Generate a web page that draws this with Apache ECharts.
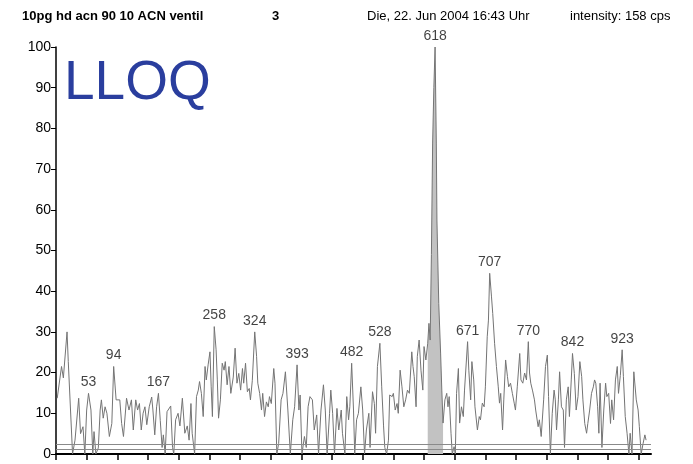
<!DOCTYPE html>
<html>
<head>
<meta charset="utf-8">
<script src="https://cdn.jsdelivr.net/npm/echarts@6/dist/echarts.min.js"></script>
<style>
  html, body { margin: 0; padding: 0; background: #fff; }
  #chart { width: 693px; height: 464px; }
</style>
</head>
<body>
<div id="chart"></div>
<script>
// Spectrum trace: m/z positions and relative intensity (%)
const mz = [
  2, 9, 12, 18, 20, 27, 31, 37, 40, 44, 47, 50, 53, 57, 60, 62, 65, 69, 72, 74, 77, 80, 83, 87, 91, 94, 98,
  101, 104, 107, 110, 115, 119, 123, 126, 130, 133, 136, 139, 142, 145, 148, 152, 156, 158, 161, 164, 167,
  170, 173, 175, 178, 181, 184, 187, 190, 192,
  195, 199, 202, 206, 210, 214, 217, 220, 222, 226, 229, 232, 234, 237, 240, 243, 245, 248, 251, 253, 255,
  258, 261, 263, 265, 268, 271, 274, 276, 279, 282, 285, 289, 292, 295, 298, 301, 304, 306, 309, 312, 315,
  317, 320, 324, 327, 329, 332, 335, 337, 340, 343, 346, 348, 351, 355, 357, 360, 363, 367, 370, 374, 378,
  382, 386, 389,
  393, 396, 398, 401, 405, 408, 411, 414, 418, 421, 425, 428, 432, 436, 439, 442, 446, 448, 451, 454, 458,
  461, 465, 467, 471, 474, 477, 479, 482, 485, 487, 490, 493, 497, 500, 503, 506, 510, 512, 516, 519, 521,
  524, 528, 531, 534, 536, 539, 542, 544, 548, 550, 553, 556, 558, 561, 564, 567, 570, 573, 576, 580, 582,
  584, 587, 589, 592, 595, 598, 600, 603, 606, 608, 610, 612, 614, 616, 618, 620, 621, 624, 627, 629, 631,
  634, 637, 639, 641, 644, 646, 649, 651, 653, 656, 658, 661, 664, 666, 671, 673, 676, 678, 681, 683, 687,
  690, 692, 695, 698, 700, 703, 705, 707, 710, 712, 715, 718, 721, 723, 725, 728, 730, 733, 736, 738, 741,
  744, 747, 749, 752, 756, 758, 761, 764, 767, 770, 772, 774, 777, 780, 782, 786, 788, 791, 795, 798, 801,
  803, 806, 809, 812, 814, 816, 819, 821, 824, 827, 829, 832, 835, 837, 840, 842, 845, 848, 851, 854, 857,
  859, 862, 865, 867, 870, 873, 876, 878, 880, 883, 885, 887, 890, 893, 896, 898, 901, 904, 906, 909, 912,
  915, 917, 920, 923, 925, 928, 931, 934, 936, 939, 942, 946, 949, 951, 954, 957, 960, 962
];
const intensity = [
  13.7, 21.5, 18.7, 30, 22.7, 0, 3.4, 13.7, 5, 6.7, 0, 10.8, 14.9, 10.8, 0, 5.5, 0, 1.5, 10.8, 13.3, 8.8, 11.6, 10, 4.3, 7.5, 21.5, 13.3,
  13.7, 13.3, 7.5, 4.3, 13.7, 10.8, 13.3, 5.9, 13.3, 10.8, 12.4, 5.9, 10, 11.6, 7.2, 11.6, 14, 10.8, 4.7, 11.6, 14.9,
  8.2, 1.6, 4.7, 0, 10.4, 10, 11.8, 1.6, 0,
  8.4, 10, 6.9, 13.7, 5.1, 6.9, 3.4, 12.4, 5.1, 0, 14.1, 15.7, 17.8, 14.9, 9.2, 21.5, 18.2, 21.9, 25.1, 16.5, 9.2,
  31.3, 25.6, 18.2, 8.8, 13.3, 22.3, 20.6, 22.7, 17, 21.5, 14.9, 18.9, 26, 17.4, 19.8, 15.7, 21, 17.4, 22.3, 15.3, 16.1,
  13.3, 18, 30, 24, 17.4, 14.9, 10.8, 14.9, 9.2, 12.8, 11.6, 14.1, 12.4, 21, 17.4, 0, 2.6, 13.3, 14.9, 20.2, 10.8,
  0, 8.4, 11.6,
  21.9, 10.8, 14.5, 0, 4.3, 1.6, 11.6, 14.1, 13.3, 5.9, 9.6, 0, 10.8, 17, 10.8, 0, 10, 15.7, 10, 0, 11.2,
  5.9, 10.8, 5.1, 0, 14.1, 8.4, 11.6, 22.3, 10.8, 0, 8.4, 10, 16.5, 10.8, 0, 5.9, 10, 1.6, 15.3, 12.4, 5.1,
  21.5, 27.2, 16.5, 6.9, 1.6, 0, 3.4, 14.5, 14.1, 14.9, 10.8, 12.4, 10, 20.6, 16.5, 11.6, 13.3, 15.7, 14.9, 25.1, 21.5,
  19, 11.6, 23.9, 28, 20.6, 15.7, 26.4, 23.1, 27.2, 32.1, 28, 49, 76.4, 90, 100, 76.4, 57.5, 37, 24.8, 15.5, 7.6,
  13.3, 14.9, 11.6, 14.1, 5.1, 0, 1.8, 0, 14.9, 21, 7.6, 11.6, 9.2, 15.7, 27.6, 20.6, 13.3, 22.7, 18.2, 11.6, 5.9,
  9.2, 8.4, 12.5, 11.6, 16.5, 28.8, 32.9, 44.4, 38.6, 34.5, 27.2, 21.5, 16.5, 12.5, 14.9, 5.9, 13.3, 23.1, 19, 16.5, 17.4,
  14.9, 12.5, 10.8, 16.5, 24.7, 18.2, 17.4, 19.9, 18.2, 27.6, 19.9, 17.4, 15.5, 13.3, 10.8, 6.7, 8.4, 4.3, 13.3, 21.5, 24.3,
  14.1, 0, 10, 15.7, 13.3, 5.9, 13.3, 20.2, 11.6, 10.8, 1.6, 13.3, 16.5, 9.2, 18.2, 24.7, 19.8, 10.8, 14.1, 22.7, 19,
  13.3, 7.5, 5.1, 7.5, 10.8, 14.9, 16.5, 18.2, 17.4, 11.6, 5.1, 17.4, 1.6, 10.8, 17.4, 14.1, 14.9, 7.5, 13.3, 8.4, 18.2,
  21.5, 14.9, 19.3, 25.6, 19, 9.2, 5.1, 0, 5.1, 0, 20.2, 13.3, 10.8, 6.7, 0, 2.5, 4.7, 3.4
];

// Annotated peaks (m/z)
const peakLabels = [53, 94, 167, 258, 324, 393, 482, 528, 618, 671, 707, 770, 842, 923];

// Integrated range of the base peak
const fillRange = [606, 631];

// Threshold levels (%) drawn across the plot
const thresholds = [1.2, 2.3];

// Axis ticks
const xTicks = [0, 50, 100, 150, 200, 250, 300, 350, 400, 450, 500, 550, 600, 650, 700, 750, 800, 850, 900, 950];
const yTicks = [0, 10, 20, 30, 40, 50, 60, 70, 80, 90, 100];

const trace = mz.map((m, i) => [m, intensity[i]]);
const filled = trace.filter(p => p[0] >= fillRange[0] && p[0] <= fillRange[1]);
const peaks = peakLabels.map(m => [m, intensity[mz.indexOf(m)]]);

const font = '"Liberation Sans", Arial, sans-serif';
const chart = echarts.init(document.getElementById('chart'), null, { renderer: 'canvas' });

chart.setOption({
  backgroundColor: '#ffffff',
  animation: false,
  grid: { left: 56, right: 42, top: 47, bottom: 10, containLabel: false },
  xAxis: {
    type: 'value',
    min: 0,
    max: 970,
    axisLine: { show: true, onZero: false, lineStyle: { color: '#000', width: 2 } },
    axisTick: { show: true, customValues: xTicks, length: 6, lineStyle: { color: '#000', width: 1.5 } },
    axisLabel: { show: false },
    splitLine: { show: false }
  },
  yAxis: {
    type: 'value',
    min: yTicks[0],
    max: yTicks[yTicks.length - 1],
    interval: 10,
    axisLine: { show: true, lineStyle: { color: '#000', width: 1.5 } },
    axisTick: { show: true, length: 5, lineStyle: { color: '#000', width: 1 } },
    axisLabel: { color: '#000', fontSize: 14, fontFamily: font, margin: 5 },
    splitLine: { show: false }
  },
  series: [
    {
      // shaded base peak
      type: 'line',
      data: filled,
      symbol: 'none',
      lineStyle: { width: 0 },
      areaStyle: { color: '#c2c2c2', opacity: 1 },
      z: 1
    },
    {
      type: 'line',
      data: trace,
      symbol: 'none',
      lineStyle: { color: '#747474', width: 1 },
      z: 2,
      markLine: {
        silent: true,
        symbol: 'none',
        label: { show: false },
        lineStyle: { color: '#8a8a8a', width: 1, type: 'solid' },
        data: thresholds.map(v => ({ yAxis: v }))
      }
    },
    {
      type: 'scatter',
      data: peaks,
      symbolSize: 0,
      z: 3,
      label: {
        show: true,
        position: 'top',
        distance: 4,
        formatter: p => String(p.value[0]),
        color: '#111',
        fontSize: 14,
        fontFamily: font
      }
    }
  ],
  graphic: [
    { type: 'text', left: 22, top: 10, style: { text: '10pg hd acn 90 10 ACN ventil', font: 'bold 13px ' + font, fill: '#000' } },
    { type: 'text', left: 272, top: 10, style: { text: '3', font: 'bold 13px ' + font, fill: '#000' } },
    { type: 'text', left: 367, top: 10, style: { text: 'Die, 22. Jun 2004 16:43 Uhr', font: '13px ' + font, fill: '#000' } },
    { type: 'text', left: 570, top: 10, style: { text: 'intensity: 158 cps', font: '13px ' + font, fill: '#000' } },
    { type: 'text', left: 64, top: 56, style: { text: 'LLOQ', font: '55px ' + font, fill: '#2a3e9e' } }
  ]
});
</script>
</body>
</html>
